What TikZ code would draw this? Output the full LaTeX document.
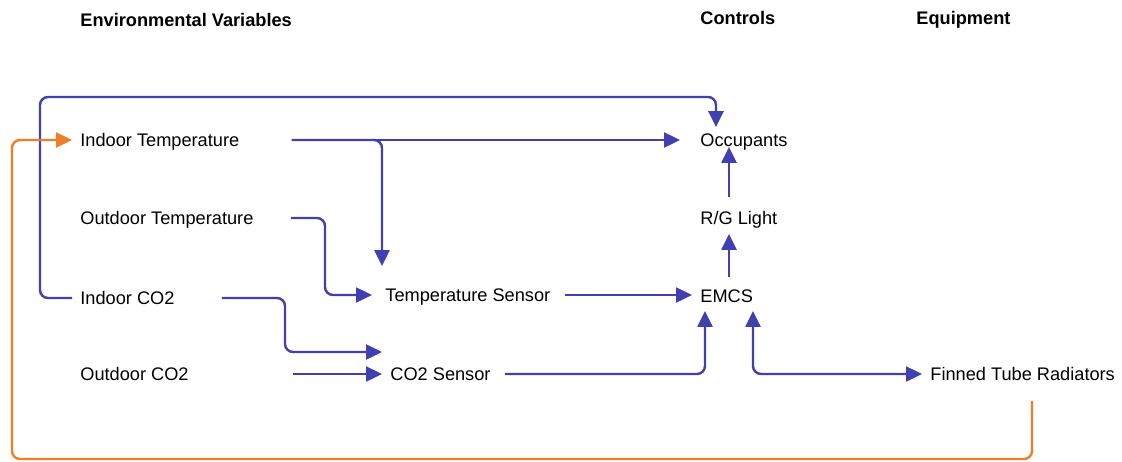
\documentclass[tikz,border=0pt]{standalone}
\usepackage{fontspec}
\setmainfont{Liberation Sans}
\usetikzlibrary{arrows.meta,calc}
\definecolor{flowblue}{RGB}{64,64,176}
\definecolor{looporange}{RGB}{240,125,40}
\begin{document}
\begin{tikzpicture}[x=0.5pt,y=-0.5pt,
  tip/.tip={Triangle[length=8pt,width=7.5pt]},
  lbl/.style={anchor=west,inner sep=0pt,text height=6.5pt,text depth=0pt,font=\fontsize{9.1}{11}\selectfont},
  head/.style={lbl,font=\fontsize{9.1}{11}\selectfont\bfseries},
  flow/.style={flowblue,line width=1.2pt,rounded corners=4pt,-tip},
  back/.style={flow,looporange}]
\useasboundingbox (0,0) rectangle (1122,461);
\node[head] (envh) at (80,20) {Environmental Variables};
\node[head] (ctrlh) at (700,18) {Controls};
\node[head] (equh) at (916,18) {Equipment};
\node[lbl] (it) at (80,140) {Indoor Temperature};
\node[lbl] (ot) at (80,218) {Outdoor Temperature};
\node[lbl] (ico2) at (80,298) {Indoor CO2};
\node[lbl] (oco2) at (80,374) {Outdoor CO2};
\node[lbl] (tsen) at (385,295) {Temperature Sensor};
\node[lbl] (csen) at (390,374) {CO2 Sensor};
\node[lbl] (occ) at (700,140) {Occupants};
\node[lbl] (rg) at (700,218) {R/G Light};
\node[lbl] (emcs) at (700,296) {EMCS};
\node[lbl] (ftr) at (930,374) {Finned Tube Radiators};
% inputs
\draw[flow] ($(ico2.west)+(-8,0)$) -| (40,97) -| ($(occ.north west)+(16,-6)$);
\draw[flow] ($(it.east)+(52,0)$) -- ($(occ.west)+(-20,0)$);
\draw[flow] ($(it.east)+(52,0)$) -| ($(tsen.north west)+(-3,-22)$);
\draw[flow] ($(ot.east)+(37,0)$) -| (325,295) -- ($(tsen.west)+(-13,0)$);
\draw[flow] ($(ico2.east)+(47,0)$) -| (285,352) -- ($(csen.west)+(-8,-22)$);
\draw[flow] ($(oco2.east)+(104,0)$) -- ($(csen.west)+(-8,0)$);
% controls
\draw[flow] ($(tsen.east)+(14,0)$) -- ($(tsen.east -| emcs.west)+(-8,0)$);
\draw[flow] ($(csen.east)+(14,0)$) -| ($(emcs.south west)+(5,8)$);
\draw[flow] ($(emcs.north west)+(29,-12)$) -- ($(rg.south west)+(29,9)$);
\draw[flow] ($(rg.north west)+(29,-14)$) -- ($(occ.south west)+(29,0)$);
\draw[flow,tip-tip] ($(emcs.south west)+(53,8)$) |- ($(ftr.west)+(-8,0)$);
% feedback
\draw[back] ($(ftr.south west)+(102,20)$) |- (12,459) |- ($(it.west)+(-8,0)$);
\end{tikzpicture}
\end{document}
